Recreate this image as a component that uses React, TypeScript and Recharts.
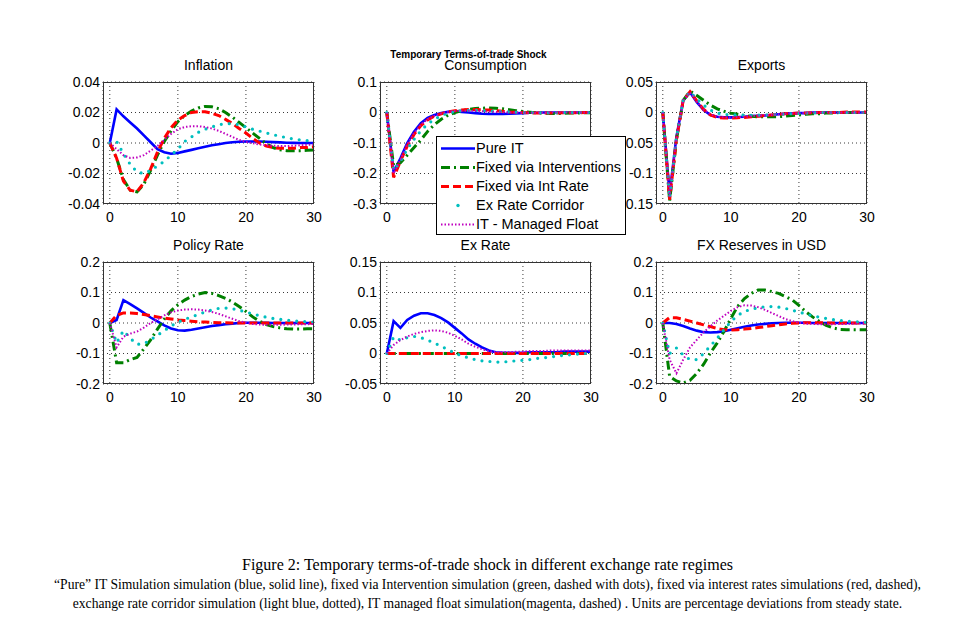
import React from 'react';
import { LineChart, Line, XAxis, YAxis, CartesianGrid } from 'recharts';

// ---------- data ----------
const periods = [0, 1, 2, 3, 4, 5, 6, 7, 8, 9, 10, 11, 12, 13, 14, 15, 16, 17, 18, 19, 20, 21, 22, 23, 24, 25, 26, 27, 28, 29, 30];
const xTicks = [0, 10, 20, 30];

// Inflation
const infPure = [0, 0.022, 0.0175, 0.0135, 0.0095, 0.005, 0.0005, -0.004, -0.006, -0.007, -0.0065, -0.0055, -0.0045, -0.0035, -0.0025, -0.0015, -0.0008, 0, 0.0005, 0.0008, 0.001, 0.001, 0.001, 0.0008, 0.0006, 0.0004, 0.0002, 0.0001, 0, 0, 0];
const infIntervention = [0, -0.01, -0.024, -0.031, -0.032, -0.027, -0.018, -0.008, 0.001, 0.008, 0.014, 0.018, 0.021, 0.023, 0.024, 0.0237, 0.0225, 0.02, 0.017, 0.0135, 0.01, 0.0065, 0.003, -0.0005, -0.003, -0.0045, -0.005, -0.005, -0.005, -0.0048, -0.0045];
const infIntRate = [0, -0.01, -0.025, -0.031, -0.032, -0.026, -0.017, -0.006, 0.003, 0.01, 0.015, 0.018, 0.02, 0.0205, 0.0205, 0.0195, 0.018, 0.0155, 0.0128, 0.0095, 0.0065, 0.003, 0, -0.002, -0.003, -0.0035, -0.0035, -0.0035, -0.003, -0.003, -0.0025];
const infCorridor = [0, 0.001, -0.007, -0.014, -0.019, -0.02, -0.018, -0.015, -0.012, -0.008, -0.004, 0.001, 0.004, 0.007, 0.009, 0.0105, 0.012, 0.0127, 0.0127, 0.012, 0.0105, 0.009, 0.0078, 0.0066, 0.0055, 0.0044, 0.0035, 0.0026, 0.002, 0.0015, 0.001];
const infManaged = [0, -0.004, -0.008, -0.0098, -0.0095, -0.008, -0.005, -0.002, 0.002, 0.006, 0.009, 0.0105, 0.011, 0.011, 0.0105, 0.0095, 0.008, 0.006, 0.004, 0.002, 0.0008, -0.0002, -0.001, -0.0015, -0.0018, -0.002, -0.002, -0.0018, -0.0015, -0.0012, -0.001];

// Consumption
const consPure = [0, -0.195, -0.15, -0.1, -0.063, -0.035, -0.018, -0.008, -0.002, 0.002, 0.004, 0.002, 0, -0.002, -0.004, -0.005, -0.005, -0.005, -0.004, -0.003, -0.002, -0.001, -0.001, 0, 0, 0, 0, 0, 0, 0, 0];
const consIntervention = [0, -0.175, -0.165, -0.14, -0.115, -0.09, -0.062, -0.04, -0.022, -0.009, 0, 0.006, 0.01, 0.013, 0.014, 0.015, 0.014, 0.012, 0.009, 0.006, 0.003, 0.001, -0.001, -0.002, -0.003, -0.003, -0.003, -0.002, -0.002, -0.001, -0.001];
const consIntRate = [0, -0.213, -0.16, -0.11, -0.072, -0.043, -0.024, -0.012, -0.004, 0.002, 0.006, 0.008, 0.01, 0.01, 0.009, 0.008, 0.006, 0.004, 0.002, 0.001, 0, -0.001, -0.002, -0.002, -0.002, -0.002, -0.001, -0.001, -0.001, 0, 0];
const consCorridor = [0, -0.19, -0.16, -0.12, -0.088, -0.06, -0.038, -0.022, -0.01, -0.002, 0.003, 0.006, 0.007, 0.007, 0.006, 0.005, 0.004, 0.003, 0.002, 0.001, 0, 0, -0.001, -0.001, -0.001, -0.001, 0, 0, 0, 0, 0];
const consManaged = [0, -0.2, -0.155, -0.105, -0.068, -0.04, -0.022, -0.011, -0.003, 0.002, 0.005, 0.006, 0.006, 0.005, 0.004, 0.003, 0.002, 0.001, 0, 0, -0.001, -0.001, -0.001, -0.001, 0, 0, 0, 0, 0, 0, 0];

// Exports
const expPure = [0, -0.133, -0.04, 0.02, 0.033, 0.017, 0.004, -0.004, -0.007, -0.008, -0.008, -0.0075, -0.007, -0.006, -0.0055, -0.005, -0.004, -0.003, -0.002, -0.0015, -0.001, -0.001, 0, 0, 0, 0, 0, 0, 0, 0, 0];
const expIntervention = [0, -0.145, -0.045, 0.02, 0.035, 0.028, 0.02, 0.012, 0.006, 0.002, -0.001, -0.003, -0.005, -0.006, -0.007, -0.007, -0.007, -0.007, -0.006, -0.005, -0.004, -0.003, -0.002, -0.002, -0.001, -0.001, 0, 0, 0, 0, 0];
const expIntRate = [0, -0.143, -0.045, 0.02, 0.034, 0.019, 0.005, -0.004, -0.008, -0.009, -0.009, -0.0085, -0.008, -0.007, -0.006, -0.005, -0.004, -0.003, -0.002, -0.0015, -0.001, -0.001, -0.0005, 0, 0, 0, 0, 0.001, 0.001, 0.001, 0.001];
const expCorridor = [0, -0.14, -0.042, 0.02, 0.034, 0.022, 0.012, 0.004, -0.001, -0.003, -0.004, -0.004, -0.0045, -0.0045, -0.0045, -0.004, -0.0035, -0.003, -0.0025, -0.002, -0.0015, -0.001, -0.001, 0, 0, 0, 0, 0, 0, 0, 0];
const expManaged = [0, -0.138, -0.042, 0.02, 0.033, 0.018, 0.005, -0.003, -0.007, -0.008, -0.008, -0.0075, -0.007, -0.006, -0.005, -0.0045, -0.004, -0.003, -0.002, -0.0015, -0.001, -0.0005, 0, 0, 0, 0, 0, 0, 0, 0, 0];

// Policy Rate
const polPure = [0, 0.01, 0.075, 0.062, 0.048, 0.033, 0.018, 0.005, -0.008, -0.018, -0.024, -0.025, -0.022, -0.018, -0.014, -0.01, -0.007, -0.004, -0.002, 0, 0.001, 0.001, 0.001, 0.001, 0, 0, 0, 0, 0, 0, 0];
const polIntervention = [0, -0.13, -0.13, -0.12, -0.113, -0.085, -0.055, -0.02, 0.013, 0.04, 0.06, 0.075, 0.087, 0.095, 0.1, 0.097, 0.09, 0.081, 0.069, 0.054, 0.038, 0.02, 0.006, -0.005, -0.012, -0.016, -0.019, -0.02, -0.02, -0.019, -0.019];
const polIntRate = [0, 0.025, 0.033, 0.033, 0.031, 0.028, 0.024, 0.02, 0.016, 0.013, 0.01, 0.008, 0.006, 0.004, 0.003, 0.002, 0.001, 0.001, 0, 0, 0, 0, 0, 0, 0, 0, 0, 0, 0, 0, 0];
const polCorridor = [0, -0.065, -0.025, -0.05, -0.07, -0.068, -0.055, -0.04, -0.025, -0.01, 0.003, 0.012, 0.02, 0.028, 0.036, 0.043, 0.048, 0.049, 0.047, 0.042, 0.036, 0.03, 0.024, 0.019, 0.015, 0.012, 0.009, 0.007, 0.005, 0.004, 0.003];
const polManaged = [0, -0.08, -0.045, -0.035, -0.028, -0.015, 0, 0.012, 0.025, 0.035, 0.041, 0.044, 0.045, 0.044, 0.041, 0.036, 0.03, 0.022, 0.014, 0.006, 0.001, -0.003, -0.005, -0.006, -0.006, -0.006, -0.005, -0.005, -0.004, -0.004, -0.003];

// Ex Rate
const exPure = [0, 0.053, 0.042, 0.055, 0.062, 0.066, 0.066, 0.063, 0.058, 0.051, 0.042, 0.033, 0.023, 0.016, 0.01, 0.005, 0.002, 0.001, 0.001, 0.001, 0.001, 0.002, 0.002, 0.002, 0.002, 0.002, 0.003, 0.003, 0.003, 0.003, 0.003];
const exIntervention = [0, 0, 0, 0, 0, 0, 0, 0, 0, 0, 0, 0, 0, 0, 0, 0, 0, 0, 0, 0, 0, 0, 0, 0, 0, 0, 0, 0, 0, 0, 0];
const exIntRate = [0, 0, 0, 0, 0, 0, 0, 0, 0, 0, 0, 0, 0, 0, 0, 0, 0, 0, 0, 0, 0, 0, 0, 0, 0, 0, 0, 0, 0, 0, 0];
const exCorridor = [0, 0.027, 0.022, 0.026, 0.028, 0.026, 0.022, 0.017, 0.012, 0.006, 0.001, -0.004, -0.007, -0.01, -0.012, -0.013, -0.014, -0.014, -0.013, -0.012, -0.011, -0.01, -0.008, -0.007, -0.006, -0.004, -0.003, -0.002, -0.001, 0, 0];
const exManaged = [0, 0.014, 0.022, 0.028, 0.032, 0.035, 0.037, 0.038, 0.037, 0.034, 0.029, 0.023, 0.016, 0.011, 0.007, 0.004, 0.002, 0.002, 0.002, 0.003, 0.003, 0.004, 0.004, 0.004, 0.005, 0.005, 0.005, 0.005, 0.005, 0.005, 0.005];

// FX Reserves in USD
const fxPure = [0, 0, -0.003, -0.01, -0.018, -0.025, -0.03, -0.031, -0.03, -0.027, -0.022, -0.017, -0.012, -0.008, -0.005, -0.003, -0.001, 0, 0.001, 0.001, 0.001, 0.001, 0, 0, 0, 0, 0, 0, 0, 0, 0];
const fxIntervention = [0, -0.175, -0.19, -0.197, -0.188, -0.165, -0.135, -0.098, -0.065, -0.027, 0.015, 0.055, 0.08, 0.097, 0.108, 0.108, 0.103, 0.097, 0.087, 0.076, 0.058, 0.037, 0.02, 0.005, -0.008, -0.016, -0.021, -0.022, -0.022, -0.022, -0.022];
const fxIntRate = [0, 0.018, 0.017, 0.012, 0.006, 0, -0.006, -0.012, -0.018, -0.022, -0.023, -0.022, -0.02, -0.018, -0.015, -0.012, -0.009, -0.006, -0.003, -0.001, 0, 0.001, 0.001, 0.001, 0, 0, 0, 0, 0, 0, 0];
const fxCorridor = [0, -0.1, -0.082, -0.105, -0.12, -0.12, -0.1, -0.075, -0.05, -0.022, 0.005, 0.025, 0.038, 0.045, 0.05, 0.053, 0.054, 0.052, 0.048, 0.042, 0.036, 0.03, 0.024, 0.019, 0.015, 0.011, 0.008, 0.006, 0.004, 0.003, 0.002];
const fxManaged = [0, -0.12, -0.165, -0.12, -0.08, -0.055, -0.03, -0.011, 0.008, 0.024, 0.04, 0.052, 0.058, 0.057, 0.052, 0.043, 0.033, 0.023, 0.013, 0.006, 0.001, -0.002, -0.003, -0.004, -0.004, -0.004, -0.003, -0.003, -0.002, -0.002, -0.001];

// Tick labels per panel
const infTicks = [-0.04, -0.02, 0, 0.02, 0.04];
const consTicks = [-0.3, -0.2, -0.1, 0, 0.1];
const expTicks = [-0.15, -0.1, -0.05, 0, 0.05];
const polTicks = [-0.2, -0.1, 0, 0.1, 0.2];
const exTicks = [-0.05, 0, 0.05, 0.1, 0.15];
const fxTicks = [-0.2, -0.1, 0, 0.1, 0.2];

// ---------- styles ----------
const SANS = '"Liberation Sans", Arial, Helvetica, sans-serif';
const SERIF = '"Liberation Serif", "Times New Roman", serif';

type SeriesStyle = { key: string; name: string; color: string; width: number; dash?: string; cap?: 'round' | 'butt' };
const seriesStyles: SeriesStyle[] = [
  { key: 'pure', name: 'Pure IT', color: '#0000FF', width: 2.6 },
  { key: 'interv', name: 'Fixed via Interventions', color: '#008000', width: 3, dash: '9 4 2 4' },
  { key: 'intrate', name: 'Fixed via Int Rate', color: '#FF0000', width: 3, dash: '8 4' },
  { key: 'corridor', name: 'Ex Rate Corridor', color: '#00BFBF', width: 3.2, dash: '0 8', cap: 'round' },
  { key: 'managed', name: 'IT - Managed Float', color: '#BF00BF', width: 2, dash: '1.5 2' },
];

function build(pure: number[], interv: number[], intrate: number[], corridor: number[], managed: number[]) {
  return periods.map((t, i) => ({ t, pure: pure[i], interv: interv[i], intrate: intrate[i], corridor: corridor[i], managed: managed[i] }));
}

type PanelDef = { title: string; left: number; top: number; ticks: number[]; data: any[] };

const PW = 211;
const PH = 122;

const panels: PanelDef[] = [
  { title: 'Inflation', left: 103, top: 82, ticks: infTicks, data: build(infPure, infIntervention, infIntRate, infCorridor, infManaged) },
  { title: 'Consumption', left: 380, top: 82, ticks: consTicks, data: build(consPure, consIntervention, consIntRate, consCorridor, consManaged) },
  { title: 'Exports', left: 656, top: 82, ticks: expTicks, data: build(expPure, expIntervention, expIntRate, expCorridor, expManaged) },
  { title: 'Policy Rate', left: 103, top: 262, ticks: polTicks, data: build(polPure, polIntervention, polIntRate, polCorridor, polManaged) },
  { title: 'Ex Rate', left: 380, top: 262, ticks: exTicks, data: build(exPure, exIntervention, exIntRate, exCorridor, exManaged) },
  { title: 'FX Reserves in USD', left: 656, top: 262, ticks: fxTicks, data: build(fxPure, fxIntervention, fxIntRate, fxCorridor, fxManaged) },
];

const AXW = 60;
const TOPM = 10;
const RIGHTM = 10;
const AXH = 30;

function Panel({ p }: { p: PanelDef }) {
  const W = AXW + PW + RIGHTM;
  const H = TOPM + PH + AXH;
  const tickStyle = { fontFamily: SANS, fontSize: 14, fill: '#000' };
  return (
    <>
      <div style={{ position: 'absolute', left: p.left - AXW, top: p.top - TOPM }}>
        <LineChart width={W} height={H} data={p.data} margin={{ top: TOPM, right: RIGHTM, bottom: 0, left: 0 }}>
          <CartesianGrid stroke="#222" strokeDasharray="1 3" strokeWidth={0.9} />
          <XAxis
            dataKey="t"
            type="number"
            domain={[-1, 30]}
            ticks={xTicks}
            height={AXH}
            tickLine={false}
            axisLine={false}
            tickSize={0}
            tickMargin={8}
            tick={tickStyle}
            interval={0}
          />
          <YAxis
            type="number"
            domain={[p.ticks[0], p.ticks[p.ticks.length - 1]]}
            ticks={p.ticks}
            width={AXW}
            tickLine={false}
            axisLine={false}
            tickSize={0}
            tickMargin={3}
            tick={tickStyle}
            interval={0}
          />
          {seriesStyles.map((s) => (
            <Line
              key={s.key}
              dataKey={s.key}
              type="linear"
              stroke={s.color}
              strokeWidth={s.width}
              strokeDasharray={s.dash}
              strokeLinecap={s.cap || 'butt'}
              dot={false}
              activeDot={false}
              isAnimationActive={false}
            />
          ))}
        </LineChart>
      </div>
      <div
        style={{
          position: 'absolute',
          left: p.left,
          top: p.top,
          width: PW,
          height: PH,
          border: '1px solid #333',
          boxSizing: 'border-box',
          pointerEvents: 'none',
        }}
      />
      <div
        style={{
          position: 'absolute',
          left: p.left,
          width: PW,
          top: p.top - 24,
          textAlign: 'center',
          fontFamily: SANS,
          fontSize: 14,
          lineHeight: '15px',
          color: '#000',
        }}
      >
        {p.title}
      </div>
    </>
  );
}

function LegendBox() {
  const rowH = 19.1;
  return (
    <div
      style={{
        position: 'absolute',
        left: 436,
        top: 136,
        width: 190,
        height: 99,
        border: '1px solid #000',
        background: '#fff',
        boxSizing: 'border-box',
        zIndex: 5,
      }}
    >
      {seriesStyles.map((s, i) => (
        <div
          key={s.key}
          style={{ position: 'absolute', left: 0, top: 1.5 + i * rowH, height: rowH, width: 188, display: 'flex', alignItems: 'center' }}
        >
          <svg width={40} height={rowH} style={{ display: 'block', flex: 'none' }}>
            {s.key === 'corridor' ? (
              <circle cx={21} cy={rowH / 2} r={1.7} fill={s.color} />
            ) : (
              <line
                x1={4}
                x2={38}
                y1={rowH / 2}
                y2={rowH / 2}
                stroke={s.color}
                strokeWidth={s.width}
                strokeDasharray={s.dash}
              />
            )}
          </svg>
          <span style={{ fontFamily: SANS, fontSize: 14.5, color: '#000', whiteSpace: 'nowrap', marginLeft: -1 }}>{s.name}</span>
        </div>
      ))}
    </div>
  );
}

export default function App() {
  return (
    <div style={{ position: 'absolute', left: 0, top: 0, width: 975, height: 632, background: '#fff', overflow: 'hidden' }}>
      {panels.map((p) => (
        <Panel key={p.title} p={p} />
      ))}
      <div
        style={{
          position: 'absolute',
          left: 380,
          width: 211,
          top: 50,
          textAlign: 'center',
          fontFamily: SANS,
          fontWeight: 'bold',
          fontSize: 10,
          lineHeight: '10px',
          color: '#000',
          marginLeft: -17,
        }}
      >
        Temporary Terms-of-trade Shock
      </div>
      <LegendBox />
      <div
        style={{
          position: 'absolute',
          left: 0,
          width: 975,
          top: 556,
          textAlign: 'center',
          fontFamily: SERIF,
          fontSize: 16,
          lineHeight: '18px',
          color: '#000',
        }}
      >
        Figure 2: Temporary terms-of-trade shock in different exchange rate regimes
      </div>
      <div
        style={{
          position: 'absolute',
          left: 0,
          width: 975,
          top: 575,
          textAlign: 'center',
          fontFamily: SERIF,
          fontSize: 13.6,
          lineHeight: '19px',
          color: '#000',
          whiteSpace: 'nowrap',
        }}
      >
        “Pure” IT Simulation simulation (blue, solid line), fixed via Intervention simulation (green, dashed with dots), fixed via interest rates simulations (red, dashed),
        <br />
        exchange rate corridor simulation (light blue, dotted), IT managed float simulation(magenta, dashed) . Units are percentage deviations from steady state.
      </div>
    </div>
  );
}
